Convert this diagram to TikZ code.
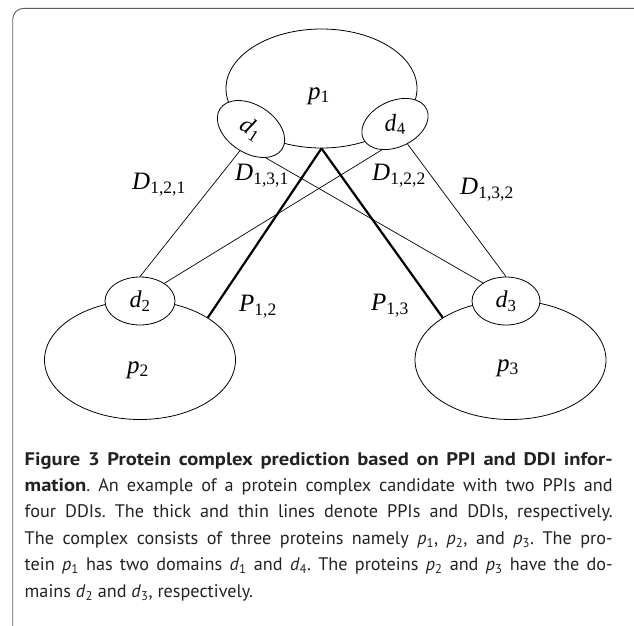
\documentclass[tikz,border=0pt]{standalone}
\usepackage{fontspec}
\usepackage{tikz}
\usetikzlibrary{shapes.geometric}
\setsansfont{PT Sans}[BoldFeatures={FakeStretch=1.13}]
\newfontfamily\labelfont{Liberation Serif}
\definecolor{Ink}{HTML}{000000}
\definecolor{Frame}{HTML}{5E5E5E}
\definecolor{CapText}{HTML}{222222}
\newcommand{\vsub}[2]{\textit{#1}\textsubscript{#2}}

\begin{document}
\begin{tikzpicture}[
  x=1pt, y=-1pt,
  protein/.style={ellipse, draw=Ink, line width=0.8pt, minimum width=191pt, minimum height=119pt, inner sep=0pt},
  domainbox/.style={ellipse, draw=Ink, line width=0.8pt, fill=white, minimum width=70pt, minimum height=48pt, inner sep=0pt, font=\labelfont\fontsize{24}{26}\selectfont},
  lbl/.style={font=\labelfont\fontsize{25}{28}\selectfont, inner sep=0pt},
  ddi/.style={draw=Ink, line width=0.7pt},
  ppi/.style={draw=Ink, line width=2.2pt},
  capbox/.style={font=\sffamily\fontsize{18.2}{26.4}\selectfont\frenchspacing, text=CapText, text width=588pt, align=justify, inner sep=0pt}
]
\useasboundingbox (0,0) rectangle (634,625);
\draw[Frame, line width=0.9pt, rounded corners=11pt] (12.7,8.3) rectangle (645,645);

\node[protein] (p1) at (321.5,88.5) {};
\node[protein] (p2) at (140,360) {};
\node[protein] (p3) at (510.5,360) {};

\node[domainbox, rotate=-33, minimum width=74pt] (d1) at (251,129) {\vsub{d}{1}};
\node[domainbox, rotate=25, minimum height=46pt] (d4) at (395,124) {\rotatebox{-22}{\vsub{d}{4}}};
\node[domainbox] (d2) at (140,301) {\vsub{d}{2}};
\node[domainbox, minimum width=68pt] (d3) at (506,301) {\vsub{d}{3}};

\draw[ddi] (d1.276) -- (d2.north);
\draw[ddi] (d1.330) -- (d3.142);
\draw[ddi] (d4.218) -- (d2.36);
\draw[ddi] (d4.277) -- (d3.north);
\draw[ppi] (p1.south) -- (p2.32);
\draw[ppi] (p1.south) -- (p3.148);

\node[lbl] (p1lbl) at (319,96) {\vsub{p}{1}};
\node[lbl] (p2lbl) at (138,370) {\vsub{p}{2}};
\node[lbl] (p3lbl) at (508,368) {\vsub{p}{3}};

\node[lbl] (D121) at (159,185) {\vsub{D}{1,2,1}};
\node[lbl] (D131) at (262,176) {\vsub{D}{1,3,1}};
\node[lbl] (D122) at (399,176) {\vsub{D}{1,2,2}};
\node[lbl] (D132) at (487,190) {\vsub{D}{1,3,2}};
\node[lbl] (P12) at (258,307) {\vsub{P}{1,2}};
\node[lbl] (P13) at (390,306) {\vsub{P}{1,3}};

\node[capbox, anchor=north west] (caption) at (24.5,452) {\textbf{Figure 3 Protein complex prediction based on PPI and DDI infor-\linebreak mation}. An example of a protein complex candidate with two PPIs and\linebreak four DDIs. The thick and thin lines denote PPIs and DDIs, respectively.\linebreak The complex consists of three proteins namely \vsub{p}{1}, \vsub{p}{2}, and \vsub{p}{3}. The pro-\linebreak tein \vsub{p}{1} has two domains \vsub{d}{1} and \vsub{d}{4}. The proteins \vsub{p}{2} and \vsub{p}{3} have the do-\linebreak mains \vsub{d}{2} and \vsub{d}{3}, respectively.};
\end{tikzpicture}
\end{document}
